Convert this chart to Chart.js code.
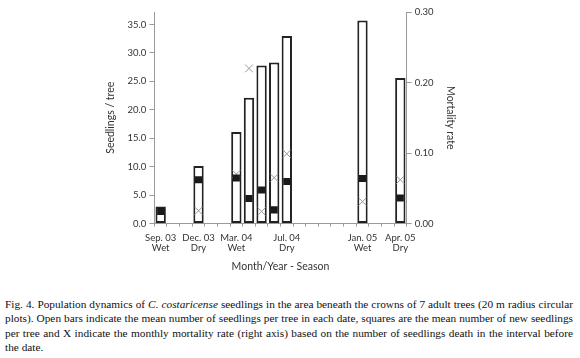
<!DOCTYPE html>
<html>
<head>
<meta charset="utf-8">
<script src="https://cdn.jsdelivr.net/npm/chart.js@4"></script>
<style>
  body { margin: 0; background: #fff; width: 580px; height: 358px; overflow: hidden; position: relative; }
  #wrap { position: absolute; left: 0; top: 0; width: 580px; height: 285px; }
  #caption { position: absolute; left: 5px; top: 297px; width: 568px; font-family: "Liberation Serif", serif; font-size: 11.3px; line-height: 14.4px; color: #111; text-align: justify; }
</style>
</head>
<body>
<div id="wrap"><canvas id="seedChart" width="580" height="285"></canvas></div>
<div id="caption">Fig. 4. Population dynamics of <i>C. costaricense</i> seedlings in the area beneath the crowns of 7 adult trees (20 m radius circular plots). Open bars indicate the mean number of seedlings per tree in each date, squares are the mean number of new seedlings per tree and X indicate the monthly mortality rate (right axis) based on the number of seedlings death in the interval before the date.</div>
<script>
// one slot per month, Sep 03 .. Apr 05
var months = ['Sep 03', 'Oct 03', 'Nov 03', 'Dec 03', 'Jan 04', 'Feb 04', 'Mar 04', 'Apr 04', 'May 04', 'Jun 04',
              'Jul 04', 'Aug 04', 'Sep 04', 'Oct 04', 'Nov 04', 'Dec 04', 'Jan 05', 'Feb 05', 'Mar 05', 'Apr 05'];
var monthLabels = ['Sep. 03', '', '', 'Dec. 03', '', '', 'Mar. 04', '', '', '', 'Jul. 04', '', '', '', '', '', 'Jan. 05', '', '', 'Apr. 05'];
var seasonLabels = ['Wet', '', '', 'Dry', '', '', 'Wet', '', '', '', 'Dry', '', '', '', '', '', 'Wet', '', '', 'Dry'];

var seedlings = [3.0, null, null, 10.1, null, null, 16.1, 22.1, 27.8, 28.3, 33.0, null, null, null, null, null, 35.7, null, null, 25.6];
var newSeedlings = [2.1, null, null, 7.7, null, null, 8.0, 4.4, 5.9, 2.4, 7.4, null, null, null, null, null, 7.9, null, null, 4.5];
var mortality = [null, null, null, 0.018, null, null, 0.07, 0.22, 0.017, 0.065, 0.099, null, null, null, null, null, 0.031, null, null, 0.062];

var axisGrey = '#9a9a9a';
var textCol = '#333';

var ctx = document.getElementById('seedChart').getContext('2d');
var seedChart = new Chart(ctx, {
    type: 'bar',
    data: {
        labels: months,
        datasets: [{
                label: 'Seedlings / tree',
                order: 3,
                data: seedlings,
                backgroundColor: '#fff',
                borderColor: '#222',
                borderWidth: 2,
                borderSkipped: false,
                barPercentage: 0.82,
                categoryPercentage: 1,
                yAxisID: 'y'
            },
            {
                type: 'line',
                label: 'New seedlings',
                order: 1,
                data: newSeedlings,
                showLine: false,
                pointStyle: 'rect',
                pointRadius: 5,
                backgroundColor: '#1a1a1a',
                borderColor: '#1a1a1a',
                borderWidth: 0,
                yAxisID: 'y'
            },
            {
                type: 'line',
                label: 'Mortality rate',
                order: 2,
                data: mortality,
                showLine: false,
                pointStyle: 'crossRot',
                pointRadius: 5.5,
                borderColor: '#999',
                pointBorderWidth: 1,
                yAxisID: 'y1'
            }
        ]
    },
    options: {
        responsive: false,
        animation: false,
        layout: { padding: { left: 104, right: 123, top: 12, bottom: 12 } },
        plugins: {
            legend: { display: false },
            tooltip: { enabled: false }
        },
        scales: {
            x: {
                grid: { display: true, drawOnChartArea: false, color: axisGrey, tickLength: 3 },
                border: { color: axisGrey },
                ticks: {
                    autoSkip: false,
                    maxRotation: 0,
                    padding: 6,
                    color: textCol,
                    font: { family: 'Lato', size: 9.5, lineHeight: 1.1 },
                    callback: function(val, i) {
                        if (monthLabels[i] === '') return '';
                        return [monthLabels[i], seasonLabels[i]];
                    }
                },
                title: {
                    display: true,
                    text: 'Month/Year - Season',
                    color: textCol,
                    font: { family: 'Lato', size: 10.5 },
                    padding: { top: 1, bottom: 0 }
                }
            },
            y: {
                position: 'left',
                min: 0,
                max: 37.2,
                grid: { display: true, drawOnChartArea: false, color: axisGrey, tickLength: 5 },
                border: { color: axisGrey },
                ticks: {
                    stepSize: 5,
                    includeBounds: false,
                    padding: 3,
                    color: textCol,
                    font: { family: 'Lato', size: 9.5 },
                    callback: function(v) { return v.toFixed(1); }
                },
                title: {
                    display: true,
                    text: 'Seedlings / tree',
                    color: textCol,
                    font: { family: 'Lato', size: 10.5 },
                    padding: { top: 0, bottom: 8 }
                }
            },
            y1: {
                position: 'right',
                min: 0,
                max: 0.30,
                grid: { display: true, drawOnChartArea: false, color: axisGrey, tickLength: 5 },
                border: { color: axisGrey },
                ticks: {
                    stepSize: 0.1,
                    padding: 3,
                    color: textCol,
                    font: { family: 'Lato', size: 9.5 },
                    callback: function(v) { return v.toFixed(2); }
                },
                title: {
                    display: true,
                    text: 'Mortality rate',
                    color: textCol,
                    font: { family: 'Lato', size: 10.5 },
                    padding: { top: 0, bottom: 8 }
                }
            }
        }
    }
});
</script>
</body>
</html>
